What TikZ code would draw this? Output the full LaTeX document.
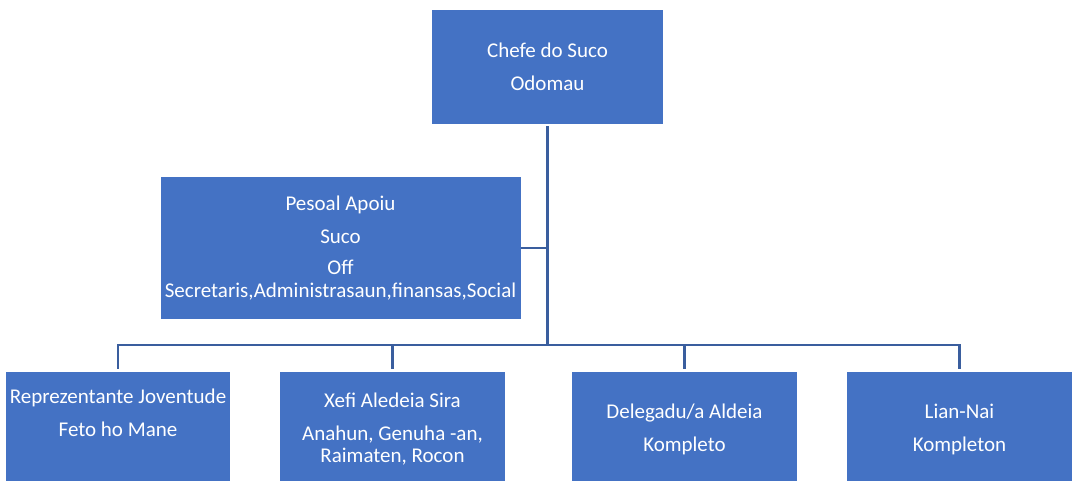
\documentclass[tikz,border=0pt]{standalone}
\usepackage{fontspec}
\setmainfont{Carlito}
\usepackage{tikz}

\definecolor{boxblue}{HTML}{4472C4}
\definecolor{linkblue}{HTML}{3A5E9E}

\begin{document}
\begin{tikzpicture}[x=1pt,y=-1pt]
 % Box style
\tikzset{
    orgbox/.style={rectangle, fill=boxblue,
        text=white, align=center, inner sep=0pt,
        font=\fontsize{21}{22}\selectfont},
    link/.style={draw=linkblue, line width=2.3pt}
}
\useasboundingbox (0,0) rectangle (1079,480);

% Boxes
\node[orgbox, minimum width=231pt, minimum height=114pt] (SUCO) at (547.5,67)
    {Chefe do Suco\\[11pt]Odomau};
\node[orgbox, minimum width=360pt, minimum height=142pt] (APOIU) at (340.5,248)
    {Pesoal Apoiu\\[11pt]Suco\\[9pt]Off\\[1pt]Secretaris,Administrasaun,finansas,Social};
\node[orgbox, minimum width=224pt, minimum height=114pt] (JOV) at (118,429)
    {Reprezentante Joventude\\[11pt]Feto ho Mane\\[11pt]\mbox{}};
\node[orgbox, minimum width=225pt, minimum height=114pt] (XEFI) at (392.5,429)
    {Xefi Aledeia Sira\\[11pt]Anahun, Genuha -an,\\Raimaten, Rocon};
\node[orgbox, minimum width=225pt, minimum height=114pt] (DELEG) at (684.5,429)
    {Delegadu/a Aldeia\\[11pt]Kompleto};
\node[orgbox, minimum width=225pt, minimum height=114pt] (LIAN) at (959.5,429)
    {Lian-Nai\\[11pt]Kompleton};

\coordinate (HUB) at (547.5,345);

% Links
\draw[link, shorten <=2pt] (SUCO.south) -- (HUB);
\draw[link] (APOIU.east) -- (APOIU.east -| HUB);
\draw[link, shorten <=3pt, shorten >=3pt] (JOV.north) |- (HUB) -| (LIAN.north);
\draw[link, shorten <=3pt] (XEFI.north) -- (XEFI.north |- HUB);
\draw[link, shorten <=3pt] (DELEG.north) -- (DELEG.north |- HUB);
\end{tikzpicture}
\end{document}
